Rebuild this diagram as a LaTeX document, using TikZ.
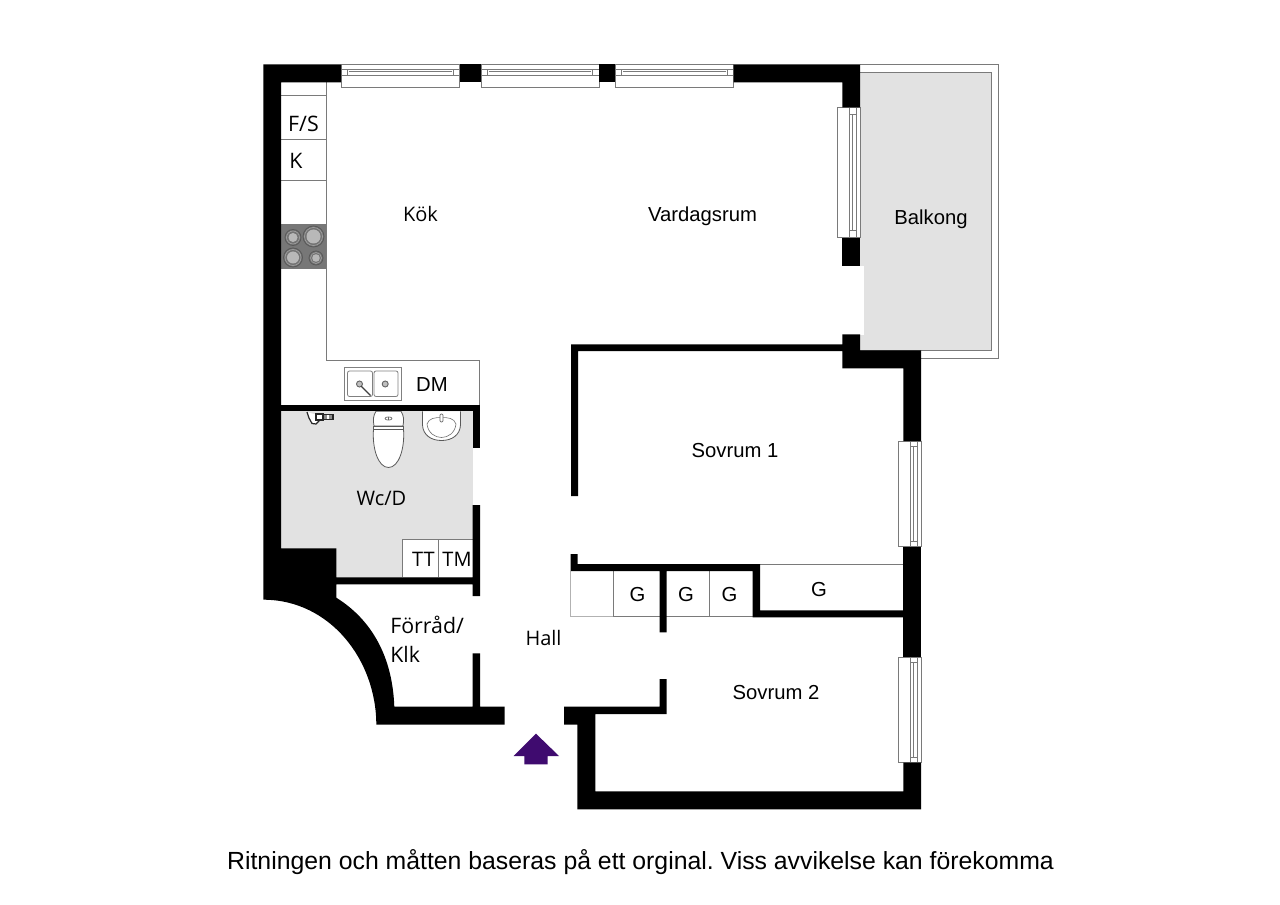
\documentclass[tikz,border=0pt]{standalone}
\usepackage{fontspec}
\setmainfont{Liberation Sans}
\newfontfamily\opensans{Open Sans}
\definecolor{wallk}{HTML}{000000}
\definecolor{floorg}{HTML}{E2E2E2}
\definecolor{lineg}{HTML}{7A7A7A}
\definecolor{stoveg}{HTML}{777777}
\definecolor{arrowp}{HTML}{3F0B6F}
\tikzset{
  wall/.style={fill=wallk,draw=none},
  fine/.style={draw=lineg,line width=0.75pt},
  fixture/.style={draw=lineg,line width=0.6pt,fill=white},
  lab/.style={inner sep=0pt,text=black,font=\fontsize{15.2}{18}\selectfont},
  labo/.style={inner sep=0pt,text=black,font=\opensans\fontsize{15}{18}\selectfont},
  labb/.style={inner sep=0pt,text=black,font=\opensans\fontsize{16}{18}\selectfont},
  ring/.style={draw=black!65,line width=0.6pt},
}
\newcommand{\hwin}[2]{%
  \draw[fixture] (#1,64.5) rectangle (#2,87.7);
  \draw[fine,line width=0.5pt] (#1,75.7) -- (#2,75.7);
  \draw[fine,line width=0.5pt,fill=white] (#1+6.5,69) rectangle (#2-6.5,75.7);
  \draw[fine,line width=0.5pt] (#1+8,71.5) -- (#2-8,71.5);
  \draw[fine,line width=0.5pt] (#1,69) -- (#2,69);
}
\newcommand{\vwinr}[2]{%
  \draw[fixture] (898,#1) rectangle (921,#2);
  \draw[fine,line width=0.5pt] (910,#1) -- (910,#2);
  \draw[fine,line width=0.5pt] (917.3,#1) -- (917.3,#2);
  \draw[fine,line width=0.5pt] (910,#1+5.5) -- (917.3,#1+5.5);
  \draw[fine,line width=0.5pt] (910,#2-5.5) -- (917.3,#2-5.5);
  \draw[fine,line width=0.5pt] (913,#1+5.5) -- (913,#2-5.5);
}
\begin{document}
\frenchspacing
\begin{tikzpicture}[x=0.75pt,y=-0.75pt]
\useasboundingbox (0,0) rectangle (1280,905);
\fill[white] (0,0) rectangle (1280,905);

% balcony
\draw[fine,fill=white] (860,65) -- (998.7,65) -- (998.7,358.7) -- (921,358.7);
\fill[floorg] (860,72.3) rectangle (991.7,350.7);
\fill[white] (855,266) rectangle (863.5,334.5);
\draw[fine,line width=0.9pt] (860,72.3) -- (991.7,72.3) -- (991.7,350.7) -- (860,350.7);

% wc floor
\fill[floorg] (281,411) rectangle (473,578);

% cabinet lines
\draw[fine] (326,82.5) -- (326,360.7) -- (479.3,360.7) -- (479.3,405);
\draw[fine] (281,95.7) -- (326,95.7);
\draw[fine] (281,139.3) -- (326,139.3);
\draw[fine] (281,180.7) -- (326,180.7);

% stove
\fill[stoveg] (281,224) rectangle (326,268.7);
\foreach \cx/\cy/\rr/\ri in {293/237.5/8/4.5, 313.5/236.5/10.5/7, 293/257.5/9.5/6, 316/258/7/3.8}{
  \filldraw[ring,fill=black!55] (\cx,\cy) circle (\rr);
  \draw[ring,draw=black!35,line width=0.4pt] (\cx,\cy) circle (\rr-1.5);
  \fill[black!28] (\cx,\cy) circle (\ri);
}

% sink
\draw[fixture,draw=black!50,line width=1pt] (344.3,367.3) rectangle (401.3,400.3);
\draw[fixture,draw=black!50,rounded corners=1.5pt] (347.5,371) rectangle (372.5,396.5);
\draw[fixture,draw=black!50,rounded corners=1.5pt] (374,371) rectangle (398,396.5);
\draw[draw=black!60,fill=black!25,line width=0.7pt] (359.5,384) circle (3);
\draw[draw=black!60,fill=black!25,line width=0.7pt] (385.2,384) circle (3);
\draw[black!75,line width=1pt] (361,386) -- (370.5,395.5);

% wardrobes
\draw[fine] (402.7,577) -- (402.7,539.3) -- (473,539.3);
\draw[fine] (438.3,539.3) -- (438.3,577);
\fill[white] (403.1,539.7) rectangle (438,577);
\fill[white] (438.7,539.7) rectangle (472.7,577);
\draw[fine,draw=black!30] (570.7,571) -- (570.7,616.7) -- (613.3,616.7);
\draw[fine] (613.3,571) -- (613.3,616.7) -- (752.7,616.7);
\draw[fine] (709.3,571) -- (709.3,616.7);
\draw[fine] (760,564.5) -- (903.3,564.5);

% toilet
\draw[fixture,draw=black!65] (373.5,429) .. controls (372,448) and (378,467.5) .. (388.5,467.5)
  .. controls (399,467.5) and (405,448) .. (403.5,429) -- cycle;
\draw[fixture,draw=black!65] (376,411.3) .. controls (373,416) and (373,420) .. (374,426)
  -- (403,426) .. controls (404,420) and (404,416) .. (401,411.3) -- cycle;
\draw[black!65,line width=0.5pt,fill=white] (373.5,426) rectangle (403.5,429);
\draw[black!60,line width=0.5pt] (388.5,418.5) ellipse (3.5 and 1.6);
\draw[black!60,line width=0.5pt] (388.5,417) -- (388.5,420);

% basin
\draw[fixture,draw=black!65] (422.5,411.3) -- (422.5,425) .. controls (423,435) and (431,440.5) .. (441.5,440.5)
  .. controls (452,440.5) and (460,435) .. (460.5,425) -- (460.5,411.3);
\draw[black!55,line width=0.45pt] (427,424) .. controls (429,418) and (435,417.5) .. (441.5,417.5)
  .. controls (448,417.5) and (454,418) .. (456,424)
  .. controls (455,433) and (448,437.5) .. (441.5,437.5)
  .. controls (435,437.5) and (428,433) .. (427,424) -- cycle;
\draw[black!60,line width=0.5pt,fill=white,rounded corners=0.8pt] (440,414) rectangle (443,422);

% tap on wall
\draw[black!85,line width=0.9pt,fill=white] (307,412) -- (309,418) -- (312,423.5) -- (316,424) -- (319,421) -- (317,415);
\draw[black!85,line width=0.9pt,fill=white] (316,414) rectangle (323,420);
\draw[black!85,line width=0.9pt,fill=black!45] (323,414.5) rectangle (333,419.5);
\draw[white,line width=0.8pt] (328,415) -- (328,419);

% windows
\hwin{341}{459.7}
\hwin{481}{599}
\hwin{615}{733.7}
\draw[fixture] (837.3,107.3) rectangle (860,237.7);
\draw[fine,line width=0.5pt] (849.3,107.3) -- (849.3,237.7);
\draw[fine,line width=0.5pt] (856,107.3) -- (856,237.7);
\draw[fine,line width=0.5pt] (849.3,114.3) -- (856,114.3);
\draw[fine,line width=0.5pt] (849.3,230.7) -- (856,230.7);
\draw[fine,line width=0.5pt] (852.5,114.3) -- (852.5,230.7);
\vwinr{441}{546.7}
\vwinr{657.3}{762.7}

% walls
\fill[wall] (263.3,64.5) -- (341,64.5) -- (341,82.5) -- (281,82.5) -- (281,548.3) -- (336.3,548.3)
  -- (336.3,577.3) -- (472.7,577.3) -- (472.7,505) -- (480,505) -- (480,596) -- (472.7,596) -- (472.7,584.3) -- (336.3,584.3)
  -- (336.3,597.7) .. controls (372,620) and (392.5,657) .. (394.3,706.7)
  -- (472.7,706.7) -- (472.7,653.3) -- (480,653.3) -- (480,706.7) -- (504.7,706.7) -- (504.7,724.7) -- (376.3,724.7)
  .. controls (376.3,660) and (330,599.7) .. (263.3,599.7) -- cycle;
\fill[wall] (281,404.7) rectangle (480,411.3);
\fill[wall] (472.7,404.7) rectangle (480,448.3);
\fill[wall] (459.7,64.5) rectangle (481,82.5);
\fill[wall] (599,64.5) rectangle (615,82.5);
\fill[wall] (733.7,64.5) -- (860,64.5) -- (860,107.3) -- (842.3,107.3) -- (842.3,82.5) -- (733.7,82.5) -- cycle;
\fill[wall] (842.3,237.7) rectangle (860,266.3);
\fill[wall] (571,496) -- (571,344.3) -- (842.3,344.3) -- (842.3,334.3) -- (860,334.3) -- (860,350.3) -- (921,350.3) -- (921,441)
  -- (903.3,441) -- (903.3,368.3) -- (842.3,368.3) -- (842.3,351) -- (578,351) -- (578,496) -- cycle;
\fill[wall] (903.3,546.7) rectangle (921,657.3);
\fill[wall] (921,762.7) -- (921,809.3) -- (577.3,809.3) -- (577.3,724.7) -- (564,724.7) -- (564,706.7)
  -- (659.7,706.7) -- (659.7,679) -- (666.7,679) -- (666.7,714) -- (595.3,714) -- (595.3,791.3) -- (903.3,791.3) -- (903.3,762.7) -- cycle;
\fill[wall] (570.7,554) -- (577.7,554) -- (577.7,564) -- (760,564) -- (760,610.3) -- (903.3,610.3) -- (903.3,617.3) -- (752.7,617.3)
  -- (752.7,571) -- (666.7,571) -- (666.7,632.3) -- (659.7,632.3) -- (659.7,571) -- (570.7,571) -- cycle;

% entrance arrow
\fill[arrowp] (536,733.7) -- (559,756) -- (547.7,756) -- (547.7,764.3) -- (524.3,764.3) -- (524.3,756) -- (513.7,756) -- cycle;

% labels
\node[labb] (tfs) at (303.5,123.5) {F/S};
\node[labb,anchor=west] (tk) at (289,160.5) {K};
\node[labo] (tkok) at (420.5,214.5) {Kök};
\node[lab] (tvard) at (702.5,216.5) {Vardagsrum};
\node[lab] (tbalk) at (931,219) {Balkong};
\node[lab] (tdm) at (432,385) {DM};
\node[labo] (twc) at (381.5,498) {Wc/D};
\node[labo] (ttt) at (423.5,559) {TT};
\node[labo] (ttm) at (457,559) {TM};
\node[labb,anchor=west] (tforr) at (390,624.5) {Förråd/};
\node[labb,anchor=west] (tklk) at (390,654.5) {Klk};
\node[labo] (thall) at (543.5,638) {Hall};
\node[lab] (ts1) at (735,450.5) {Sovrum 1};
\node[lab] (ts2) at (776,692.5) {Sovrum 2};
\node[lab] (tg1) at (637.5,594.5) {G};
\node[lab] (tg2) at (686,594.5) {G};
\node[lab] (tg3) at (729.5,594.5) {G};
\node[lab] (tg4) at (819,590) {G};
\node[inner sep=0pt,font=\fontsize{18.6}{22}\selectfont] (tnote) at (640.5,862) {Ritningen och måtten baseras på ett orginal. Viss avvikelse kan förekomma};
\end{tikzpicture}
\end{document}
